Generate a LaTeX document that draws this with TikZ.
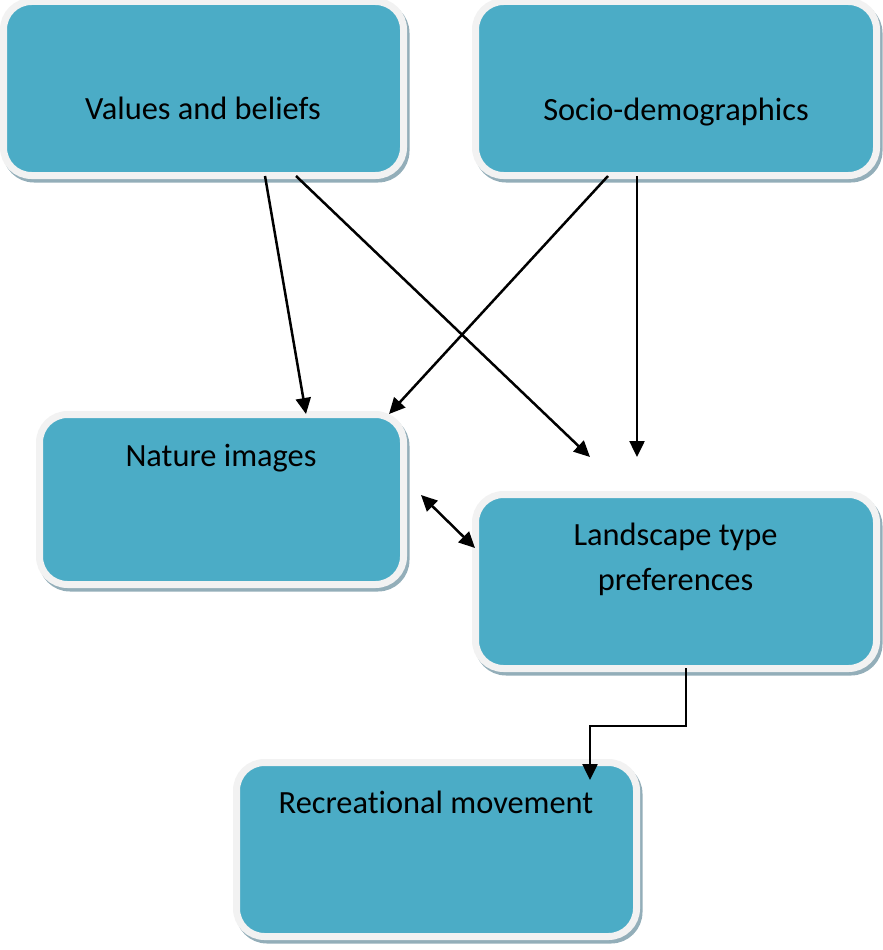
\documentclass[tikz,border=0pt]{standalone}
\usepackage{fontspec}
\setmainfont{Carlito}[Ligatures=NoCommon]
\usetikzlibrary{arrows.meta}
\definecolor{teal}{HTML}{4BACC6}
\definecolor{rim}{HTML}{F2F2F2}
\definecolor{shade}{HTML}{93AEB9}
\tikzset{
  box/.style={rectangle, rounded corners=28pt, fill=teal, draw=rim, line width=7pt,
    inner sep=0pt, outer sep=0pt,
    preaction={draw=shade, fill=shade, line width=7pt, transform canvas={shift={(2.5pt,-3.5pt)}}}},
  lbl/.style={font=\fontsize{32.4}{38}\selectfont, text=black, anchor=base, inner sep=0pt},
  arr/.style={line width=2.5pt, -{Triangle[length=16pt,width=15pt]}},
  darr/.style={line width=2.5pt, {Triangle[length=16pt,width=15pt]}-{Triangle[length=16pt,width=15pt]}}
}
\begin{document}
\begin{tikzpicture}[x=1pt,y=-1pt]
\useasboundingbox (0,0) rectangle (883,950);
% boxes
\node[box, minimum width=400pt, minimum height=174pt] (vb) at (203.5,88.5) {};
\node[box, minimum width=401pt, minimum height=174pt] (sd) at (676,88.5) {};
\node[box, minimum width=364pt, minimum height=170pt] (ni) at (221.5,499.5) {};
\node[box, minimum width=401pt, minimum height=174pt] (lp) at (676,581.5) {};
\node[box, minimum width=400pt, minimum height=174pt] (rm) at (436.5,849.5) {};
% labels
\node[lbl] (vbt) at (203,119) {Values and beliefs};
\node[lbl] (sdt) at (676,120) {Socio-demographics};
\node[lbl] (nit) at (221,466) {Nature images};
\node[lbl] (lpt1) at (675.5,545) {Landscape type};
\node[lbl] (lpt2) at (675.5,590) {preferences};
\node[lbl] (rmt) at (436,813) {Recreat\kern0pt ional movement};
% arrow end points
\coordinate (t1) at (306,414);
\coordinate (t2) at (590,457);
\coordinate (t3) at (389,414);
\coordinate (t4) at (637,457);
\coordinate (d1) at (421,495);
\coordinate (d2) at (475,548);
\coordinate (t5) at (590,780);
% connectors
\draw[arr] ([xshift=61.5pt,yshift=-0.5pt]vb.south) -- (t1);
\draw[arr] ([xshift=92.5pt,yshift=-0.5pt]vb.south) -- (t2);
\draw[arr] ([xshift=-68pt,yshift=-0.5pt]sd.south) -- (t3);
\draw[arr] ([xshift=-39pt,yshift=-0.5pt]sd.south) -- (t4);
\draw[darr] (d1) -- (d2);
\draw[arr] ([xshift=10pt,yshift=0.5pt]lp.south) |- (590,726) -- (t5);
\end{tikzpicture}
\end{document}
